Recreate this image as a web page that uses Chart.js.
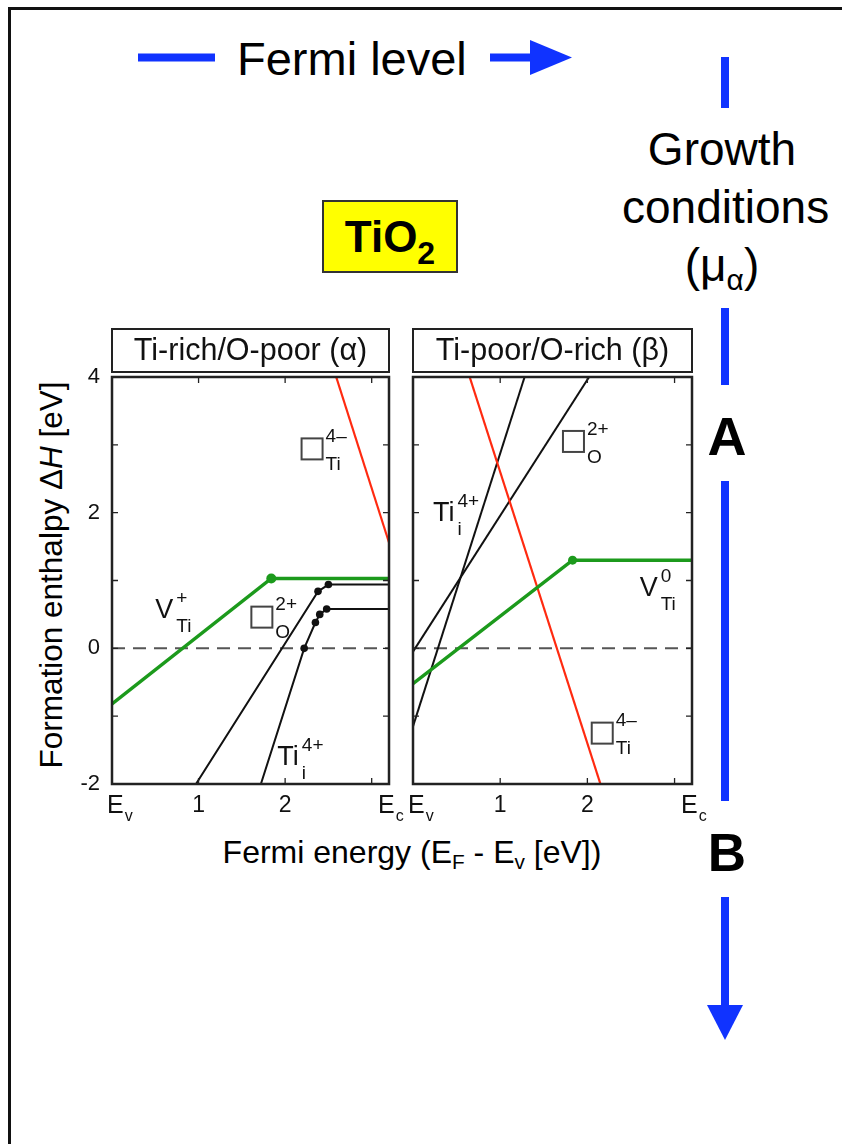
<!DOCTYPE html>
<html>
<head>
<meta charset="utf-8">
<script src="https://cdn.jsdelivr.net/npm/chart.js@4.4.1/dist/chart.umd.min.js"></script>
<style>
  body { margin: 0; width: 842px; height: 1144px; position: relative; background: #fff; overflow: hidden;
         font-family: "Liberation Sans", Arial, sans-serif; color: #000; }
  canvas { position: absolute; }
  .txt { position: absolute; white-space: nowrap; line-height: 1; }
  #deco { position: absolute; left: 0; top: 0; }
  .tio { position: absolute; left: 322px; top: 200px; width: 132px; height: 69px; background: #ffff00;
         border: 2px solid #333; font-weight: bold; font-size: 44px; text-align: center; line-height: 69px; }
  .tio span { font-size: 32px; position: relative; top: 12px; }
  sub { font-size: 0.65em; vertical-align: baseline; position: relative; top: 0.3em; }
</style>
</head>
<body>
<svg id="deco" width="842" height="1144">
  <!-- outer frame -->
  <line x1="8" y1="8.5" x2="842" y2="8.5" stroke="#111" stroke-width="3"/>
  <line x1="9.5" y1="7" x2="9.5" y2="1144" stroke="#111" stroke-width="3"/>
  <!-- Fermi level arrow -->
  <rect x="138" y="53.5" width="77" height="8" fill="#1033ff"/>
  <rect x="490" y="53.5" width="46" height="8" fill="#1033ff"/>
  <polygon points="530,40 572,57.5 530,75" fill="#1033ff"/>
  <!-- growth conditions arrow -->
  <rect x="721" y="57" width="8" height="51" fill="#1033ff"/>
  <rect x="721" y="308" width="8" height="77" fill="#1033ff"/>
  <rect x="721" y="481" width="8" height="320" fill="#1033ff"/>
  <rect x="721" y="897" width="8" height="112" fill="#1033ff"/>
  <polygon points="707,1005 743,1005 725,1040" fill="#1033ff"/>
</svg>

<div class="txt" style="left:237px; top:35px; font-size:47px;">Fermi level</div>
<div class="txt" style="left:622px; top:120px; width:200px; text-align:center; font-size:46px; line-height:58px;">Growth<br>conditions<br>(μ<sub>α</sub>)</div>
<div class="txt" style="left:687px; top:409px; width:80px; text-align:center; font-size:54px; font-weight:bold;">A</div>
<div class="txt" style="left:687px; top:826px; width:80px; text-align:center; font-size:53px; font-weight:bold;">B</div>
<div class="tio">TiO<span>2</span></div>

<div class="txt" style="left:52px; top:575px; font-size:31.5px; transform: translate(-50%, -50%) rotate(-90deg);">Formation enthalpy Δ<i>H</i> [eV]</div>
<div class="txt" style="left:412px; top:852px; font-size:32px; transform: translate(-50%, -50%);">Fermi energy (E<sub>F</sub> - E<sub>v</sub> [eV])</div>

<canvas id="alphaChart" width="405" height="540" style="left:0px; top:300px;"></canvas>
<canvas id="betaChart" width="330" height="540" style="left:400px; top:300px;"></canvas>

<script>
// axis ticks
const xMin = 0, xMax = 3.2;     // E_v .. E_c
const yMin = -2, yMax = 4;
const xLabelVals = [0, 1, 2, 3.2];
const xLabelMain = ['E', '1', '2', 'E'];
const xLabelSub = ['v', '', '', 'c'];
const yLabelVals = [4, 2, 0, -2];
const yLabelText = ['4', '2', '0', '-2'];
const xTickMarks = [1, 2, 3];
const yTickMarks = [-1, 0, 1, 2, 3];

// Ti-rich / O-poor (alpha)
const alphaVTiX = [0, 1.84, 3.2];
const alphaVTiY = [-0.82, 1.03, 1.03];
const alphaVOX = [0.97, 2.38, 2.5, 3.2];
const alphaVOY = [-2, 0.84, 0.94, 0.94];
const alphaTiiX = [1.72, 2.22, 2.35, 2.40, 2.48, 3.2];
const alphaTiiY = [-2, 0.0, 0.38, 0.50, 0.58, 0.58];
const alphaVTi4X = [2.59, 3.2];
const alphaVTi4Y = [4, 1.56];

// Ti-poor / O-rich (beta)
const betaVTiX = [0, 1.83, 3.2];
const betaVTiY = [-0.52, 1.30, 1.30];
const betaVOX = [0, 2.02];
const betaVOY = [-0.05, 4];
const betaTiiX = [0, 1.28];
const betaTiiY = [-1.15, 4];
const betaVTi4X = [0.65, 2.15];
const betaVTi4Y = [4, -2];

const zeroX = [0, 3.2];
const zeroY = [0, 0];

// defect labels (anchor in data units)
const alphaLabels = [
  { x: 2.19, y: 2.94, base: '□', sup: '4–', sub: 'Ti' },
  { x: 0.50, y: 0.56, base: 'V', sup: '+', sub: 'Ti' },
  { x: 1.61, y: 0.46, base: '□', sup: '2+', sub: 'O' },
  { x: 1.91, y: -1.61, base: 'Ti', sup: '4+', sub: 'i' }
];
const betaLabels = [
  { x: 0.23, y: 1.99, base: 'Ti', sup: '4+', sub: 'i' },
  { x: 1.72, y: 3.05, base: '□', sup: '2+', sub: 'O' },
  { x: 2.60, y: 0.88, base: 'V', sup: '0', sub: 'Ti' },
  { x: 2.05, y: -1.25, base: '□', sup: '4–', sub: 'Ti' }
];

const FONT = '"Liberation Sans", Arial, sans-serif';
const GREEN = '#1c9a1c', RED = '#ff2a10', BLACK = '#111';

function line(xs, ys, color, width, dots, dotR) {
  return {
    data: xs.map((x, i) => ({ x: x, y: ys[i] })),
    showLine: true,
    borderColor: color,
    backgroundColor: color,
    borderWidth: width,
    pointRadius: xs.map((_, i) => dots.includes(i) ? dotR : 0),
    pointBorderWidth: 0,
    pointHoverRadius: 0,
    tension: 0,
    clip: 0
  };
}

function dashed() {
  let d = line(zeroX, zeroY, '#555', 2, [], 0);
  d.borderDash = [13, 8];
  return d;
}

function drawDefect(ctx, px, py, lab) {
  let w;
  ctx.fillStyle = '#111';
  if (lab.base === '□') {
    ctx.strokeStyle = '#444';
    ctx.lineWidth = 2;
    ctx.strokeRect(px, py - 10.5, 21, 21);
    w = 21;
  } else {
    ctx.font = '27px ' + FONT;
    ctx.textAlign = 'left';
    ctx.textBaseline = 'middle';
    ctx.fillText(lab.base, px, py);
    w = ctx.measureText(lab.base).width;
  }
  ctx.font = '19px ' + FONT;
  ctx.textAlign = 'left';
  ctx.textBaseline = 'middle';
  ctx.fillText(lab.sup, px + w + 3, py - 12);
  ctx.fillText(lab.sub, px + w + 3, py + 16);
}

// frame, inner ticks, tick labels, title box and defect labels
const panelDecor = {
  id: 'panelDecor',
  afterDraw(chart, args, opts) {
    const ctx = chart.ctx, a = chart.chartArea;
    const xs = chart.scales.x, ys = chart.scales.y;
    ctx.save();
    ctx.strokeStyle = '#222';
    ctx.lineWidth = 2.5;
    ctx.strokeRect(a.left, a.top, a.right - a.left, a.bottom - a.top);

    ctx.lineWidth = 1.3;
    ctx.beginPath();
    xTickMarks.forEach(v => {
      const p = xs.getPixelForValue(v);
      ctx.moveTo(p, a.top); ctx.lineTo(p, a.top + 6);
      ctx.moveTo(p, a.bottom); ctx.lineTo(p, a.bottom - 6);
    });
    yTickMarks.forEach(v => {
      const p = ys.getPixelForValue(v);
      ctx.moveTo(a.left, p); ctx.lineTo(a.left + 6, p);
      ctx.moveTo(a.right, p); ctx.lineTo(a.right - 6, p);
    });
    ctx.stroke();

    // title box
    const tTop = a.top - 48;
    ctx.lineWidth = 2;
    ctx.strokeRect(a.left, tTop, a.right - a.left, 43);
    ctx.fillStyle = '#111';
    ctx.font = '30.5px ' + FONT;
    ctx.textAlign = 'center';
    ctx.textBaseline = 'middle';
    ctx.fillText(opts.title, (a.left + a.right) / 2, tTop + 23);

    // x tick labels
    xLabelVals.forEach((v, i) => {
      const p = xs.getPixelForValue(v);
      const ly = a.bottom + 22;
      if (xLabelSub[i]) {
        ctx.font = '25px ' + FONT;
        ctx.textAlign = 'left';
        const ew = ctx.measureText(xLabelMain[i]).width;
        const left = i === 0 ? p - 5 : p - 11;
        ctx.fillText(xLabelMain[i], left, ly);
        ctx.font = '16px ' + FONT;
        ctx.fillText(xLabelSub[i], left + ew + 1, ly + 11);
      } else {
        ctx.font = '23px ' + FONT;
        ctx.textAlign = 'center';
        ctx.fillText(xLabelMain[i], p, ly);
      }
    });

    // y tick labels
    if (opts.yLabels) {
      ctx.font = '22px ' + FONT;
      ctx.textAlign = 'right';
      yLabelVals.forEach((v, i) => {
        ctx.fillText(yLabelText[i], a.left - 12, ys.getPixelForValue(v));
      });
    }

    opts.labels.forEach(l => drawDefect(ctx, xs.getPixelForValue(l.x), ys.getPixelForValue(l.y), l));
    ctx.restore();
  }
};

function makePanel(id, datasets, pad, decor) {
  return new Chart(document.getElementById(id), {
    type: 'scatter',
    data: { datasets: datasets },
    options: {
      responsive: false,
      animation: false,
      devicePixelRatio: 1,
      layout: { padding: pad },
      scales: {
        x: { type: 'linear', min: xMin, max: xMax, display: false },
        y: { type: 'linear', min: yMin, max: yMax, display: false }
      },
      plugins: {
        legend: { display: false },
        tooltip: { enabled: false },
        panelDecor: decor
      }
    },
    plugins: [panelDecor]
  });
}

makePanel('alphaChart', [
  line(alphaVTiX, alphaVTiY, GREEN, 3.5, [1], 5),
  line(alphaVOX, alphaVOY, BLACK, 2, [1, 2], 3.8),
  line(alphaTiiX, alphaTiiY, BLACK, 2, [1, 2, 3, 4], 3.8),
  line(alphaVTi4X, alphaVTi4Y, RED, 2.2, [], 0),
  dashed()
], { left: 112, right: 16, top: 77, bottom: 56 },
   { title: 'Ti-rich/O-poor (α)', yLabels: true, labels: alphaLabels });

makePanel('betaChart', [
  line(betaVTiX, betaVTiY, GREEN, 3.5, [1], 4.5),
  line(betaVTi4X, betaVTi4Y, RED, 2.2, [], 0),
  line(betaVOX, betaVOY, BLACK, 2, [], 0),
  line(betaTiiX, betaTiiY, BLACK, 2, [], 0),
  dashed()
], { left: 13, right: 38, top: 77, bottom: 56 },
   { title: 'Ti-poor/O-rich (β)', yLabels: false, labels: betaLabels });
</script>
</body>
</html>
